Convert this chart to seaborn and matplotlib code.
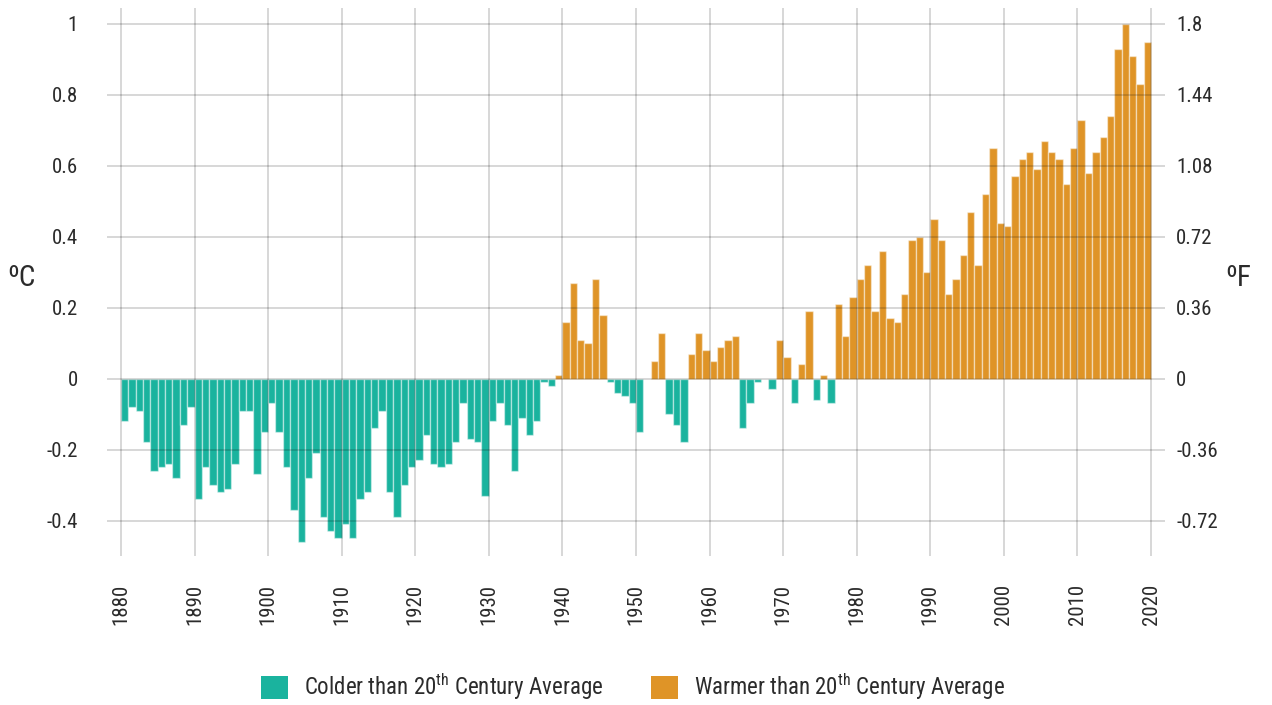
import matplotlib
matplotlib.use("Agg")
import matplotlib.pyplot as plt
import seaborn as sns
import pandas as pd
import numpy as np
from matplotlib.patches import Patch
from matplotlib import font_manager

# ---- data ----
years = list(range(1880, 2020))
anomaly_c = [
    -0.12, -0.08, -0.09, -0.18, -0.26, -0.25, -0.24, -0.28, -0.13, -0.08,   # 1880s
    -0.34, -0.25, -0.30, -0.32, -0.31, -0.24, -0.09, -0.09, -0.27, -0.15,   # 1890s
    -0.07, -0.15, -0.25, -0.37, -0.46, -0.28, -0.21, -0.39, -0.43, -0.45,   # 1900s
    -0.41, -0.45, -0.34, -0.32, -0.14, -0.09, -0.32, -0.39, -0.30, -0.25,   # 1910s
    -0.23, -0.16, -0.24, -0.25, -0.24, -0.18, -0.07, -0.17, -0.18, -0.33,   # 1920s
    -0.12, -0.07, -0.13, -0.26, -0.11, -0.16, -0.12, -0.01, -0.02, 0.01,    # 1930s
    0.16, 0.27, 0.11, 0.10, 0.28, 0.18, -0.01, -0.04, -0.05, -0.07,         # 1940s
    -0.15, 0.00, 0.05, 0.13, -0.10, -0.13, -0.18, 0.07, 0.13, 0.08,         # 1950s
    0.05, 0.09, 0.11, 0.12, -0.14, -0.07, -0.01, 0.00, -0.03, 0.11,         # 1960s
    0.06, -0.07, 0.04, 0.19, -0.06, 0.01, -0.07, 0.21, 0.12, 0.23,          # 1970s
    0.28, 0.32, 0.19, 0.36, 0.17, 0.16, 0.24, 0.39, 0.40, 0.30,             # 1980s
    0.45, 0.39, 0.24, 0.28, 0.35, 0.47, 0.32, 0.52, 0.65, 0.44,             # 1990s
    0.43, 0.57, 0.62, 0.64, 0.59, 0.67, 0.64, 0.62, 0.55, 0.65,             # 2000s
    0.73, 0.58, 0.64, 0.68, 0.74, 0.93, 1.00, 0.91, 0.83, 0.95,             # 2010s
]
decades = list(range(1880, 2030, 10))
c_ticks = [-0.4, -0.2, 0, 0.2, 0.4, 0.6, 0.8, 1]
c_labels = ["-0.4", "-0.2", "0", "0.2", "0.4", "0.6", "0.8", "1"]
f_ticks = [-0.72, -0.36, 0, 0.36, 0.72, 1.08, 1.44, 1.8]
f_labels = ["-0.72", "-0.36", "0", "0.36", "0.72", "1.08", "1.44", "1.8"]
cold_label = "Colder than 20$^{\\mathrm{th}}$ Century Average"
warm_label = "Warmer than 20$^{\\mathrm{th}}$ Century Average"
cold_color = "#1ab39e"
warm_color = "#df9427"

df = pd.DataFrame({"year": years, "anomaly": anomaly_c})
df["kind"] = np.where(df["anomaly"] < 0, "cold", "warm")

# ---- style ----
sns.set_theme(style="white")
installed = {f.name for f in font_manager.fontManager.ttflist}
fam = "DejaVu Sans"
for cand in ["Roboto Condensed", "Liberation Sans Narrow", "Open Sans Condensed", "Roboto"]:
    if cand in installed:
        fam = cand
        break
plt.rcParams["font.family"] = [fam, "DejaVu Sans"]
if fam == "DejaVu Sans":
    plt.rcParams["font.stretch"] = "condensed"
plt.rcParams["mathtext.fontset"] = "custom"
plt.rcParams["mathtext.rm"] = fam
plt.rcParams["mathtext.it"] = fam
plt.rcParams["mathtext.bf"] = fam
text_color = "#2b2b2b"

fig = plt.figure(figsize=(12.72, 7.05), dpi=100)
ax = fig.add_axes([107 / 1272, 1 - 556 / 705, (1165 - 107) / 1272, (556 - 8) / 705])

sns.barplot(
    data=df, x="year", y="anomaly", hue="kind",
    palette={"cold": cold_color, "warm": warm_color}, saturation=1,
    native_scale=True, width=1.0, dodge=False, errorbar=None,
    edgecolor=(1, 1, 1, 0.45), linewidth=1.0, legend=False, ax=ax,
)

ax.set_xlim(1877.6, 2021.4)
ax.set_ylim(-0.5, 1.045)
ax.set_xticks([d - 0.5 for d in decades])
ax.set_xticklabels([str(d) for d in decades], rotation=90)
ax.set_yticks(c_ticks)
ax.set_yticklabels(c_labels)
ax.set_xlabel("")
ax.set_ylabel("")
ax.set_axisbelow(False)
ax.grid(True, color="black", alpha=0.17, linewidth=1.3)
for s in ax.spines.values():
    s.set_visible(False)
ax.tick_params(axis="x", length=0, pad=20, labelsize=15, colors=text_color)
ax.tick_params(axis="y", length=0, pad=21, labelsize=15, colors=text_color)

ax2 = ax.twinx()
ax2.set_ylim(-0.5 * 1.8, 1.045 * 1.8)
ax2.set_yticks(f_ticks)
ax2.set_yticklabels(f_labels)
ax2.grid(False)
for s in ax2.spines.values():
    s.set_visible(False)
ax2.tick_params(axis="y", length=0, pad=8, labelsize=15, colors=text_color)

fig.text(21 / 1272, 1 - 278 / 705, "ºC", ha="center", va="center", fontsize=21, color=text_color)
fig.text(1238 / 1272, 1 - 278 / 705, "ºF", ha="center", va="center", fontsize=21, color=text_color)

handles = [Patch(facecolor=cold_color, edgecolor="none", label=cold_label),
           Patch(facecolor=warm_color, edgecolor="none", label=warm_label)]
fig.legend(handles=handles, loc="center", bbox_to_anchor=(633 / 1272, 1 - 687 / 705),
           ncol=2, frameon=False, fontsize=16.5, handlelength=1.15, handleheight=1.15,
           handletextpad=0.7, columnspacing=2.1, labelcolor=text_color)

fig.savefig("out.png", dpi=100)
